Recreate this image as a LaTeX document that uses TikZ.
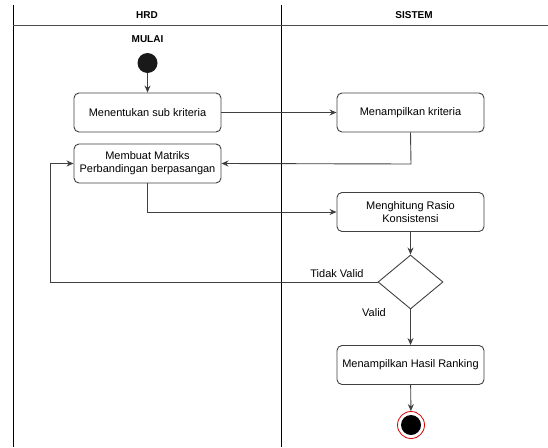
\documentclass[tikz,border=0pt]{standalone}
\usepackage{fontspec}
\setmainfont{Liberation Sans}
\usetikzlibrary{shapes.geometric,arrows.meta}
\begin{document}
\begin{tikzpicture}[x=1pt,y=-1pt,
  act/.style={draw=black!75,rounded corners=5pt,line width=0.9pt,minimum width=147pt,minimum height=39pt,align=center,font=\fontsize{11}{13}\selectfont,inner sep=1pt},
  flow/.style={draw=black!75,line width=0.9pt,-{Stealth[length=7pt,width=6pt]}},
  lane/.style={draw=black,line width=1pt},
  lbl/.style={font=\fontsize{11}{13}\selectfont},
  hdr/.style={font=\bfseries\fontsize{10}{12}\selectfont}]
\useasboundingbox (0,0) rectangle (548,447);
% lanes
\draw[lane] (13,5) -- (13,447);
\draw[lane] (281,5) -- (281,447);
\draw[draw=black!70,line width=1pt] (13,25.5) -- (548,25.5);
\node[hdr] (hhrd) at (147,15.5) {HRD};
\node[hdr] (hsis) at (414,15.5) {SISTEM};
% nodes
\node[hdr] (mulai) at (147.5,39) {MULAI};
\node[circle,fill=black!90,minimum size=20pt,inner sep=0pt] (start) at (147.5,63) {};
\node[act] (a1) at (147.5,112.5) {Menentukan sub kriteria};
\node[act] (a2) at (410.5,112.5) {Menampilkan kriteria};
\node[act] (a3) at (147.5,163.5) {Membuat Matriks\\Perbandingan berpasangan};
\node[act] (a4) at (410.5,212) {Menghitung Rasio\\Konsistensi};
\node[diamond,draw=black!75,line width=0.9pt,minimum width=65pt,minimum height=54pt,inner sep=0pt] (d) at (410.5,282) {};
\node[act] (a5) at (410.5,365) {Menampilkan Hasil Ranking};
\node[circle,draw=red!85!black,line width=0.8pt,minimum size=27pt,inner sep=0pt,fill=white] (endo) at (411,425) {};
\node[circle,fill=black,minimum size=20pt,inner sep=0pt] (endi) at (411,425) {};
\node[lbl] (tv) at (337,273.5) {Tidak Valid};
\node[lbl] (v) at (374,313) {Valid};
\coordinate (c1) at (411,164);
\coordinate (c2) at (147.5,212);
\coordinate (c3) at (50.5,282);
% connectors
\draw[flow] (start) -- (a1);
\draw[flow] (a1) -- (a2);
\draw[flow] (a2.south) -- (c1) -- (a3.east);
\draw[flow] (a3.south) -- (c2) -- (a4.west);
\draw[flow] (a4) -- (d);
\draw[flow] (d.west) -- (c3) |- (a3.west);
\draw[flow] (d) -- (a5);
\draw[flow] (a5) -- (endo);
\end{tikzpicture}
\end{document}
